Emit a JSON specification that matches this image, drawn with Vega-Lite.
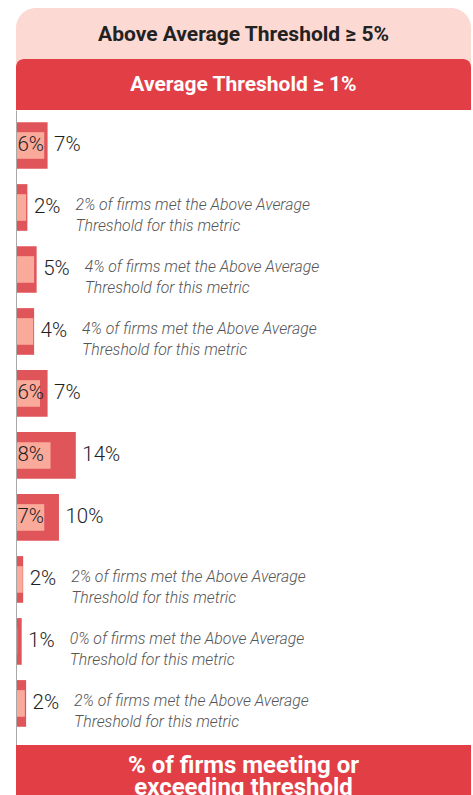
{
  "$schema": "https://vega.github.io/schema/vega-lite/v6.json",
  "padding": {"left": 16, "top": 8, "right": 2, "bottom": 0},
  "autosize": {"type": "pad"},
  "spacing": 0,
  "config": {"view": {"stroke": null}, "font": "Roboto", "concat": {"spacing": 0}},
  "vconcat": [
    {
      "width": 455,
      "height": 102,
      "view": {"fill": "#fdd9d3", "cornerRadius": 20, "stroke": null},
      "data": {"values": [
        {"band": "above", "label": "Above Average Threshold ≥ 5%"},
        {"band": "average", "label": "Average Threshold ≥ 1%"}
      ]},
      "encoding": {
        "y": {"field": "band", "type": "nominal", "scale": {"domain": ["above", "average"], "paddingInner": 0, "paddingOuter": 0}, "axis": null}
      },
      "layer": [
        {
          "transform": [{"filter": "datum.band === 'average'"}],
          "mark": {"type": "rect", "color": "#e23e46", "cornerRadiusTopLeft": 8, "cornerRadiusTopRight": 8},
          "encoding": {
            "x": {"datum": 0, "type": "quantitative", "scale": {"domain": [0, 1]}, "axis": null},
            "x2": {"datum": 1}
          }
        },
        {
          "transform": [{"filter": "datum.band === 'above'"}],
          "mark": {"type": "text", "fontSize": 21, "fontWeight": "bold", "font": "Roboto", "align": "center", "baseline": "middle", "dy": 1.5, "color": "#222222"},
          "encoding": {
            "x": {"datum": 0.5, "type": "quantitative"},
            "text": {"field": "label"}
          }
        },
        {
          "transform": [{"filter": "datum.band === 'average'"}],
          "mark": {"type": "text", "fontSize": 21, "fontWeight": "bold", "font": "Roboto", "align": "center", "baseline": "middle", "color": "#ffffff"},
          "encoding": {
            "x": {"datum": 0.5, "type": "quantitative"},
            "text": {"field": "label"}
          }
        }
      ]
    },
    {
      "width": 455,
      "height": 635,
      "data": {"values": [
        {"metric": "r1", "average": 7.5, "above": 6.7, "avgLabel": "7%", "aboveLabel": "6%", "note": null},
        {"metric": "r2", "average": 2.7, "above": 2.4, "avgLabel": "2%", "aboveLabel": null, "note": "2% of firms met the Above Average\nThreshold for this metric"},
        {"metric": "r3", "average": 4.9, "above": 4.3, "avgLabel": "5%", "aboveLabel": null, "note": "4% of firms met the Above Average\nThreshold for this metric"},
        {"metric": "r4", "average": 4.3, "above": 4.1, "avgLabel": "4%", "aboveLabel": null, "note": "4% of firms met the Above Average\nThreshold for this metric"},
        {"metric": "r5", "average": 7.5, "above": 5.7, "avgLabel": "7%", "aboveLabel": "6%", "note": null},
        {"metric": "r6", "average": 14.2, "above": 8.2, "avgLabel": "14%", "aboveLabel": "8%", "note": null},
        {"metric": "r7", "average": 10.2, "above": 6.7, "avgLabel": "10%", "aboveLabel": "7%", "note": null},
        {"metric": "r8", "average": 1.7, "above": 1.6, "avgLabel": "2%", "aboveLabel": null, "note": "2% of firms met the Above Average\nThreshold for this metric"},
        {"metric": "r9", "average": 1.35, "above": 0.3, "avgLabel": "1%", "aboveLabel": null, "note": "0% of firms met the Above Average\nThreshold for this metric"},
        {"metric": "r10", "average": 2.4, "above": 2.1, "avgLabel": "2%", "aboveLabel": null, "note": "2% of firms met the Above Average\nThreshold for this metric"}
      ]},
      "encoding": {
        "y": {
          "field": "metric", "type": "ordinal", "sort": null,
          "scale": {"paddingInner": 0.247, "paddingOuter": 0.245, "align": 0.4},
          "axis": {"title": null, "labels": false, "ticks": false, "grid": false, "domainColor": "#a9a9a9", "domainWidth": 1, "zindex": 1}
        }
      },
      "layer": [
        {
          "mark": {"type": "bar", "color": "#e0555a"},
          "encoding": {
            "x": {"field": "average", "type": "quantitative", "scale": {"domain": [0, 108], "nice": false}, "axis": null}
          }
        },
        {
          "mark": {"type": "bar", "color": "#faaa9b", "height": {"band": 0.57}},
          "encoding": {
            "x": {"field": "above", "type": "quantitative"}
          }
        },
        {
          "transform": [{"filter": "isValid(datum.aboveLabel)"}],
          "mark": {"type": "text", "align": "left", "baseline": "middle", "dx": 1.5, "fontSize": 20.5, "fontWeight": 300, "color": "#1e1e1e"},
          "encoding": {
            "x": {"datum": 0, "type": "quantitative"},
            "text": {"field": "aboveLabel"}
          }
        },
        {
          "mark": {"type": "text", "align": "left", "baseline": "middle", "dx": 6.5, "fontSize": 20.5, "fontWeight": 300, "color": "#1e1e1e"},
          "encoding": {
            "x": {"field": "average", "type": "quantitative"},
            "text": {"field": "avgLabel"}
          }
        },
        {
          "transform": [{"filter": "isValid(datum.note)"}],
          "mark": {"type": "text", "align": "left", "baseline": "middle", "dx": 48, "dy": -2, "lineBreak": "\n", "lineHeight": 21, "fontSize": 15.8, "fontWeight": 300, "fontStyle": "italic", "color": "#555555"},
          "encoding": {
            "x": {"field": "average", "type": "quantitative"},
            "text": {"field": "note"}
          }
        }
      ]
    },
    {
      "width": 455,
      "height": 50,
      "view": {"fill": "#e23e46", "stroke": null},
      "data": {"values": [{"t": "% of firms meeting or\nexceeding threshold"}]},
      "mark": {"type": "text", "align": "center", "baseline": "alphabetic", "dy": 3, "lineBreak": "\n", "lineHeight": 22, "fontSize": 24, "fontWeight": "bold", "color": "#ffffff"},
      "encoding": {
        "text": {"field": "t"}
      }
    }
  ]
}
